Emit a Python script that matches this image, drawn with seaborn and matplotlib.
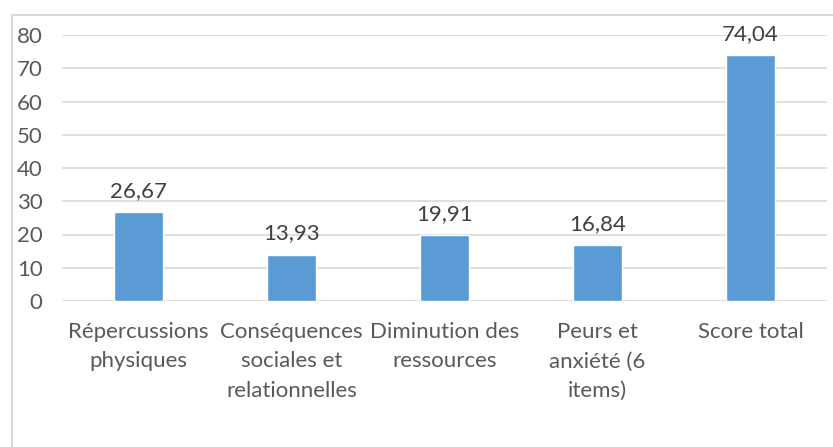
import pandas as pd
import matplotlib.pyplot as plt
import seaborn as sns
from matplotlib.patches import Rectangle

categories = ["Répercussions\nphysiques", "Conséquences\nsociales et\nrelationnelles",
              "Diminution des\nressources", "Peurs et\nanxiété (6\nitems)", "Score total"]
scores = [26.67, 13.93, 19.91, 16.84, 74.04]
labels = ["26,67", "13,93", "19,91", "16,84", "74,04"]
yticks = [0, 10, 20, 30, 40, 50, 60, 70, 80]

df = pd.DataFrame({"cat": categories, "score": scores})

sns.set_style("white")
plt.rcParams['font.family'] = ['Lato', 'DejaVu Sans']
txt = "#595959"
fs = 16

fig = plt.figure(figsize=(8.33, 4.47), dpi=100)
ax = fig.add_axes([62/833, 1-301/447, (827-62)/833, (301-35)/447])

sns.barplot(data=df, x="cat", y="score", color="#5B9BD5", width=0.314,
            saturation=1, ax=ax, zorder=3)

ax.set_ylim(0, 80)
ax.set_xlim(-0.5, 4.5)
ax.set_yticks(yticks)
ax.set_yticklabels([str(t) for t in yticks])
ax.grid(axis="y", color="#D9D9D9", lw=1.2, zorder=0)
for s in ax.spines.values():
    s.set_visible(False)
ax.tick_params(axis="y", length=0, pad=14, labelsize=fs, labelcolor=txt)
ax.tick_params(axis="x", length=0, pad=15, labelsize=fs, labelcolor=txt)
for t in ax.get_xticklabels():
    t.set_linespacing(1.6)
ax.set_xlabel("")
ax.set_ylabel("")

for i, (v, lab) in enumerate(zip(scores, labels)):
    ax.annotate(lab, (i, v), xytext=(0, 8), textcoords="offset points",
                ha="center", va="bottom", fontsize=fs, color="#404040")

fig.patches.append(Rectangle((12/833, -0.01), 1, 1-15/447+0.01, transform=fig.transFigure,
                             fill=False, ec="#D9D9D9", lw=1.5))

fig.savefig("out.png", dpi=100)
